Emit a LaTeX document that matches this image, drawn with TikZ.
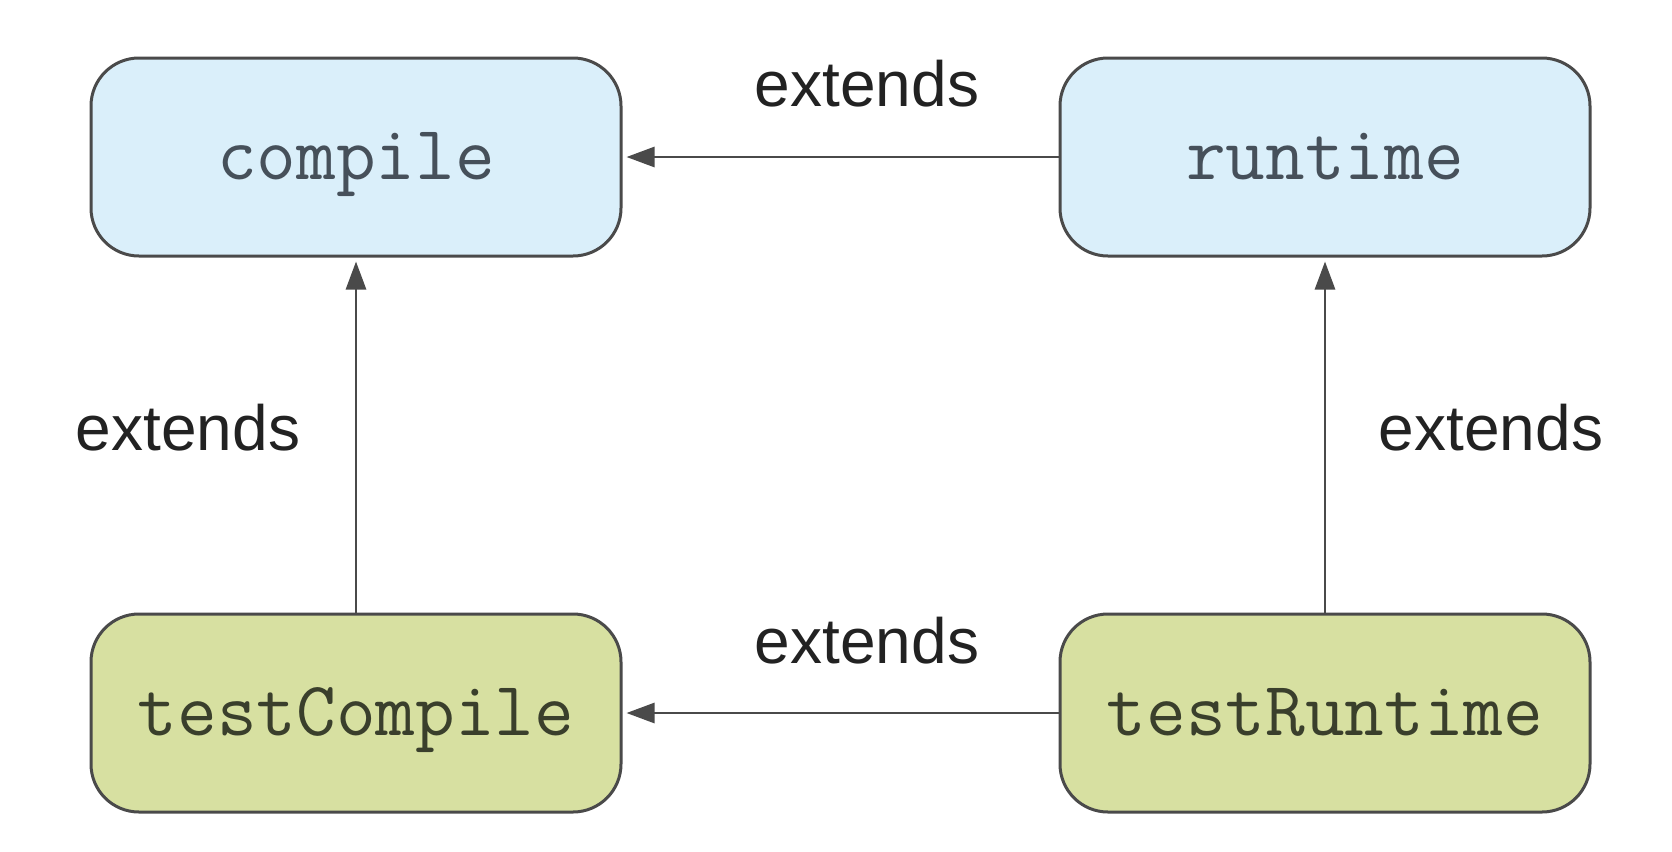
\documentclass[tikz,border=0pt]{standalone}
\usepackage{fontspec}
\setmainfont{Liberation Sans}
\usetikzlibrary{arrows.meta}
\definecolor{boxline}{HTML}{4A4A4A}
\definecolor{bluefill}{HTML}{DAEFFA}
\definecolor{greenfill}{HTML}{D7E0A1}
\definecolor{bluetext}{HTML}{46505A}
\definecolor{greentext}{HTML}{3A3F2C}
\definecolor{labeltext}{HTML}{222222}
\tikzset{
  conf/.style={draw=boxline, line width=1.5pt, rounded corners=24pt,
    minimum width=265pt, minimum height=99pt, inner sep=0pt,
    text height=26pt, text depth=3.6pt,
    font=\ttfamily\fontsize{38.5}{42}\selectfont},
  confblue/.style={conf, fill=bluefill, text=bluetext},
  confgreen/.style={conf, fill=greenfill, text=greentext},
  ext/.style={-{Triangle[length=14pt,width=10pt]}, draw=boxline, line width=1.4pt, shorten >=2pt},
  lbl/.style={inner sep=0pt, text=labeltext, font=\fontsize{32}{36}\selectfont}
}
\begin{document}
\begin{tikzpicture}[x=0.5pt,y=-0.5pt]
  \useasboundingbox[fill=white] (0,0) rectangle (1672,852);
  % configuration boxes
  \node[confblue]  (compile)     at (356,157) {compile};
  \node[confblue]  (runtime)     at (1325,157) {runtime};
  \node[confgreen] (testCompile) at (356,713) {testCompile};
  \node[confgreen] (testRuntime) at (1325,713) {testRuntime};
  % extends relations
  \draw[ext] (runtime) -- (compile);
  \draw[ext] (testRuntime) -- (testCompile);
  \draw[ext] (testCompile) -- (compile);
  \draw[ext] (testRuntime) -- (runtime);
  % labels
  \node[lbl] (l1) at (867,84)  {extends};
  \node[lbl] (l2) at (867,641) {extends};
  \node[lbl] (l3) at (188,428) {extends};
  \node[lbl] (l4) at (1491,428) {extends};
\end{tikzpicture}
\end{document}
